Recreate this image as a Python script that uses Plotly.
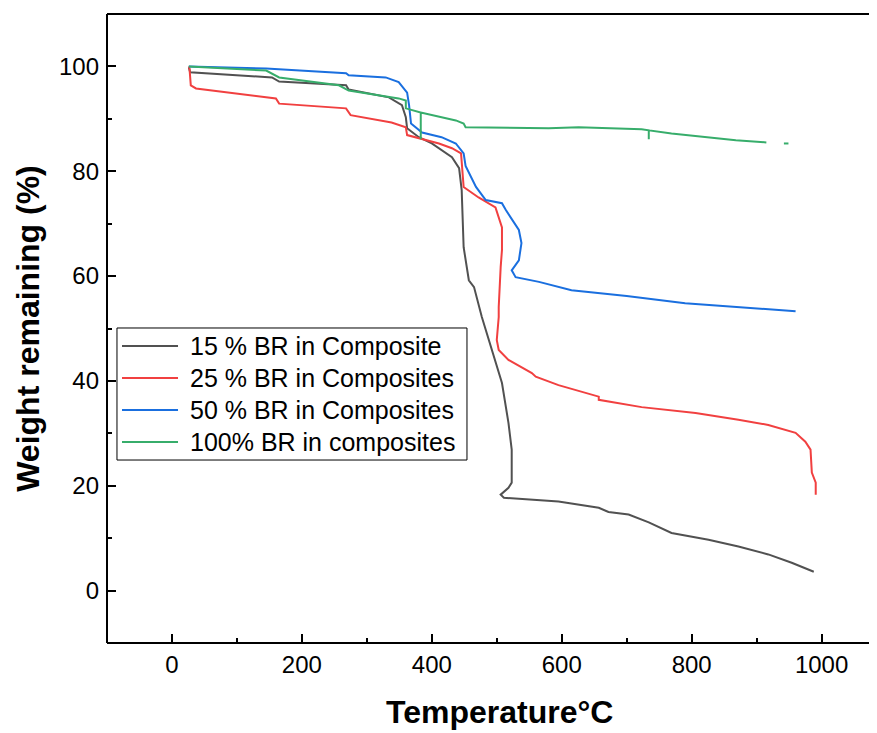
import plotly.graph_objects as go

# ---- data ----
names = ["15 % BR in Composite", "25 % BR in Composites",
         "50 % BR in Composites", "100% BR in composites"]
colors = ["#515151", "#F14040", "#1A6FDF", "#37AD6B"]

t_15 = [26, 28, 154, 165, 268, 272, 334, 354, 360, 362, 380, 400, 431, 442, 446, 448, 449,
        457, 465, 477, 492, 508, 518, 523, 523, 518, 506, 511, 595, 657, 672, 703, 734,
        769, 826, 872, 918, 954, 988]
w_15 = [99.8, 98.9, 97.9, 97.1, 96.4, 95.6, 94.1, 92.6, 90.3, 88.2, 86.5, 85.3, 82.7, 80.6,
        76.4, 69.3, 65.5, 59.2, 57.9, 52.2, 45.9, 39.6, 32.0, 26.9, 20.6, 19.6, 18.3, 17.7,
        17.0, 15.8, 15.0, 14.5, 13.0, 11.0, 9.7, 8.4, 6.9, 5.3, 3.6]

t_25 = [26, 27, 29, 37, 160, 165, 268, 275, 338, 360, 362, 380, 411, 431, 445, 449, 472,
        498, 508, 508, 506, 503, 503, 500, 503, 518, 554, 560, 595, 657, 657, 723, 806,
        872, 918, 960, 975, 983, 985, 991, 991]
w_25 = [100.0, 99.6, 96.4, 95.8, 93.9, 92.9, 92.0, 90.7, 89.3, 88.4, 86.9, 86.3, 85.3,
        84.4, 83.4, 77.0, 75.0, 73.1, 69.3, 65.0, 61.7, 54.1, 52.2, 47.8, 45.9, 44.0,
        41.5, 40.8, 39.2, 37.0, 36.4, 35.0, 33.9, 32.6, 31.6, 30.1, 28.4, 26.9, 22.5,
        20.6, 18.3]

t_50 = [26, 145, 268, 272, 329, 349, 362, 365, 368, 385, 415, 437, 449, 452, 468, 483,
        508, 514, 534, 538, 534, 523, 529, 565, 615, 700, 790, 960]
w_50 = [100.0, 99.6, 98.7, 98.3, 97.9, 97.0, 95.0, 92.6, 89.1, 87.4, 86.5, 85.3, 83.4,
        81.0, 77.0, 74.5, 73.9, 72.6, 68.8, 66.3, 63.0, 61.1, 59.8, 58.9, 57.3, 56.2,
        54.8, 53.3]

t_100 = [26, 145, 165, 257, 272, 349, 360, 360, 383, 383, 383, 437, 449, 452, 580, 626,
         723, 734, 734, 734, 769, 837, 868, 915, None, 942, 949]
w_100 = [100.0, 99.2, 97.9, 96.4, 95.4, 93.9, 93.5, 92.0, 91.2, 86.1, 91.2, 89.7, 89.1,
         88.4, 88.2, 88.4, 88.0, 87.8, 86.1, 87.8, 87.2, 86.3, 85.9, 85.5, None, 85.3, 85.3]

series_t = [t_15, t_25, t_50, t_100]
series_w = [w_15, w_25, w_50, w_100]

x_ticks = [0, 200, 400, 600, 800, 1000]
y_ticks = [0, 20, 40, 60, 80, 100]

fig = go.Figure()
for n, c, t, w in zip(names, colors, series_t, series_w):
    fig.add_trace(go.Scatter(x=t, y=w, name=n, mode="lines", showlegend=False,
                             line=dict(color=c, width=2), connectgaps=False))

font_main = "Liberation Sans, Arial, sans-serif"

# frame (left, top, bottom) and legend box in paper coordinates
frame = dict(color="black", width=2)
shapes = [dict(type="line", xref="paper", yref="paper", x0=0, x1=0, y0=0, y1=1,
               line=frame, layer="above"),
          dict(type="line", xref="paper", yref="paper", x0=0, x1=1, y0=1, y1=1,
               line=frame, layer="above"),
          dict(type="line", xref="paper", yref="paper", x0=0, x1=1, y0=0, y1=0,
               line=frame, layer="above"),
          dict(type="rect", xref="paper", yref="paper", x0=0.0131, x1=0.4724,
               y0=0.2909, y1=0.5008, line=dict(color="black", width=1),
               fillcolor="white", layer="above")]
annotations = []
row_y = [0.4722, 0.4213, 0.3704, 0.3196]
for n, c, ry in zip(names, colors, row_y):
    shapes.append(dict(type="line", xref="paper", yref="paper", x0=0.0197, x1=0.0932,
                       y0=ry, y1=ry, line=dict(color=c, width=2), layer="above"))
    annotations.append(dict(text=n, xref="paper", yref="paper", x=0.1063, y=ry,
                            xanchor="left", yanchor="middle", showarrow=False,
                            font=dict(size=25, family=font_main, color="black")))
annotations.append(dict(text="<b>Temperature°C</b>", xref="paper", yref="paper",
                        x=0.5157, y=-0.109, xanchor="center", yanchor="middle",
                        showarrow=False, font=dict(size=32, family=font_main, color="black")))

fig.update_layout(
    width=861, height=725,
    margin=dict(l=99, r=0, t=6, b=90, autoexpand=False),
    plot_bgcolor="white", paper_bgcolor="white",
    font=dict(family=font_main, color="black"),
    showlegend=False,
    shapes=shapes, annotations=annotations,
)
fig.update_xaxes(
    automargin=False,
    range=[-100, 1073], tickvals=x_ticks, ticktext=[str(v) for v in x_ticks],
    showgrid=False, zeroline=False, showline=False,
    ticks="inside", ticklen=9, tickwidth=2, tickcolor="black",
    minor=dict(dtick=100, tick0=0, ticks="inside", ticklen=5, tickwidth=2, tickcolor="black",
               showgrid=False),
    tickfont=dict(size=24, family=font_main),
    ticklabelstandoff=5,
)
fig.update_yaxes(
    automargin=False,
    range=[-10, 110], tickvals=y_ticks, ticktext=[str(v) for v in y_ticks],
    showgrid=False, zeroline=False, showline=False,
    ticks="inside", ticklen=9, tickwidth=2, tickcolor="black",
    minor=dict(dtick=10, tick0=0, ticks="inside", ticklen=5, tickwidth=2, tickcolor="black",
               showgrid=False),
    tickfont=dict(size=24, family=font_main),
    ticklabelstandoff=7,
    title=dict(text="<b>Weight remaining (%)</b>", font=dict(size=32, family=font_main), standoff=9),
)

fig.write_html("out.html")
